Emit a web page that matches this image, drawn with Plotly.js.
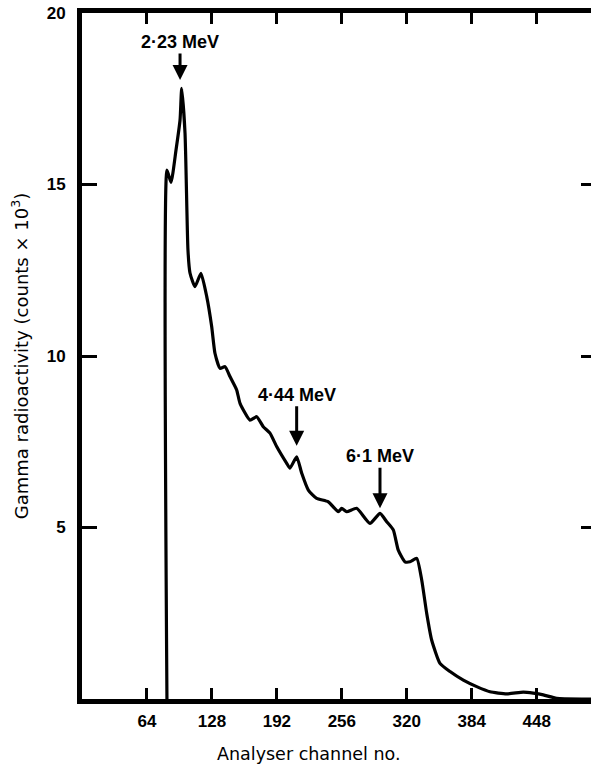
<!DOCTYPE html>
<html><head><meta charset="utf-8">
<script src="https://cdn.plot.ly/plotly-3.0.1.min.js"></script>
<style>html,body{margin:0;padding:0;background:#fff}#chart{width:591px;height:769px}</style>
</head><body><div id="chart"></div>
<script>
// Analyser channel numbers and gamma counts (x 10^3)
const channel = [83.7, 83.7, 87.7, 92.6, 96.6, 98.2, 101.5, 104.4, 106.4, 111.3, 117.2, 122.9, 127.8, 131.0, 136.0, 140.9, 145.8, 152.4, 155.7, 165.5, 172.1, 178.6, 185.2, 191.8, 201.7, 204.9, 211.5, 216.5, 223.0, 231.2, 242.7, 252.5, 255.9, 260.8, 270.6, 283.7, 293.6, 300.2, 306.7, 311.6, 318.2, 323.2, 329.8, 334.7, 339.6, 344.5, 352.7, 362.6, 375.7, 388.9, 402.0, 418.4, 434.8, 444.6, 454.5, 467.7, 493.9, 501.5];
const counts  = [0, 15.42, 15.06, 16.0, 16.88, 17.8, 16.5, 13.09, 12.42, 12.02, 12.41, 11.73, 10.85, 10.08, 9.64, 9.69, 9.40, 9.01, 8.62, 8.13, 8.23, 7.94, 7.75, 7.36, 6.87, 6.73, 7.06, 6.58, 6.09, 5.85, 5.75, 5.46, 5.56, 5.46, 5.56, 5.12, 5.41, 5.17, 4.93, 4.34, 4.00, 4.00, 4.10, 3.47, 2.50, 1.72, 1.04, 0.80, 0.55, 0.36, 0.21, 0.15, 0.20, 0.17, 0.12, 0.02, 0.0, 0.0];
const xTicks = [64, 128, 192, 256, 320, 384, 448];
const yTicks = [5, 10, 15, 20];
const yRightTicks = [5, 10, 15];
const peakLabels = ['2·23 MeV', '4·44 MeV', '6·1 MeV'];
const peakChannels = [96.6, 211.5, 293.6];
const peakArrowTips = [18.05, 7.38, 5.56];
const peakLabelOffsets = [-38, -51, -52];

const FONT = 'Liberation Sans, Arial, Helvetica, sans-serif';
const TFONT = 'DejaVu Sans, Liberation Sans, sans-serif';

const traces = [
  {x: channel, y: counts, type: 'scatter', mode: 'lines',
   line: {color: '#000', width: 3.2, shape: 'spline', smoothing: 0.5},
   hoverinfo: 'skip', showlegend: false},
  {x: channel, y: counts, type: 'scatter', mode: 'lines', yaxis: 'y2',
   line: {color: 'rgba(0,0,0,0)', width: 0}, hoverinfo: 'skip', showlegend: false}
];

const annotations = peakLabels.map((t, i) => ({
  x: peakChannels[i], y: peakArrowTips[i], xref: 'x', yref: 'y',
  text: t, showarrow: true, arrowhead: 2, arrowsize: 1, arrowwidth: 3, arrowcolor: '#000',
  ax: 0, ay: peakLabelOffsets[i],
  font: {family: FONT, size: 18, color: '#000', weight: 'bold'}
}));
annotations.push({
  xref: 'paper', yref: 'paper', x: (309 - 82) / (591 - 82), y: -0.08,
  xanchor: 'center', yanchor: 'middle', showarrow: false,
  text: 'Analyser channel no.',
  font: {family: TFONT, size: 17.5, color: '#000'}
});

const layout = {
  width: 591, height: 769,
  margin: {l: 82, r: 0, t: 13, b: 70},
  paper_bgcolor: '#fff', plot_bgcolor: '#fff',
  showlegend: false,
  xaxis: {
    range: [0, 501.5], tickvals: xTicks, ticktext: xTicks.map(String),
    ticks: 'inside', ticklen: 11, tickwidth: 3, tickcolor: '#000',
    showline: true, linewidth: 5, linecolor: '#000', mirror: 'ticks',
    showgrid: false, zeroline: false, fixedrange: true, ticklabelstandoff: 3,
    tickfont: {family: FONT, size: 17, color: '#000', weight: 'bold'}
  },
  yaxis: {
    range: [0, 20], tickvals: yTicks, ticktext: yTicks.map(String),
    ticks: 'inside', ticklen: 15, tickwidth: 3, tickcolor: '#000',
    showline: true, linewidth: 5, linecolor: '#000',
    showgrid: false, zeroline: false, fixedrange: true, ticklabelstandoff: 8,
    tickfont: {family: FONT, size: 17, color: '#000', weight: 'bold'},
    title: {text: 'Gamma radioactivity (counts × 10<sup>3</sup>)', standoff: 15,
            font: {family: TFONT, size: 18, color: '#000'}}
  },
  yaxis2: {
    overlaying: 'y', side: 'right', range: [0, 20], tickvals: yRightTicks,
    ticks: 'inside', ticklen: 10, tickwidth: 3, tickcolor: '#000',
    showticklabels: false, showline: false, showgrid: false, zeroline: false, fixedrange: true
  },
  annotations: annotations
};

Plotly.newPlot('chart', traces, layout, {displayModeBar: false, staticPlot: true});
</script></body></html>
